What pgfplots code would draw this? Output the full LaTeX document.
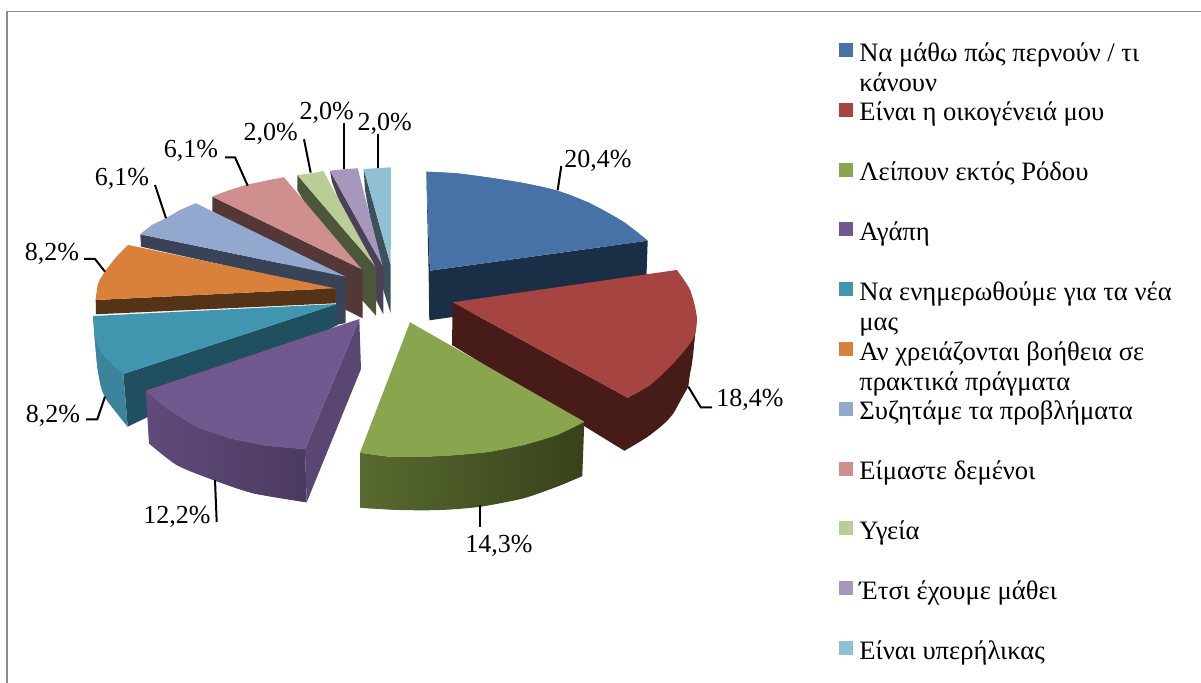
\documentclass[border=0pt]{standalone}
\usepackage{fontspec}
\setmainfont{Liberation Serif}
\usepackage{pgfplots}
\pgfplotsset{compat=1.18}

\definecolor{cBlue}{HTML}{4672A8}
\definecolor{cRed}{HTML}{A64441}
\definecolor{cGreen}{HTML}{89A54E}
\definecolor{cPurple}{HTML}{71588F}
\definecolor{cTeal}{HTML}{4096AF}
\definecolor{cOrange}{HTML}{D9813B}
\definecolor{cLilacBlue}{HTML}{92A8CF}
\definecolor{cPink}{HTML}{CF8F8E}
\definecolor{cLime}{HTML}{B9CD96}
\definecolor{cLilac}{HTML}{A797BD}
\definecolor{cSky}{HTML}{8FC0D4}
\definecolor{cSkyWall}{HTML}{3B525A}
\definecolor{cLilacWall}{HTML}{4A4157}
\definecolor{cLimeWall}{HTML}{4C563A}
\definecolor{cPinkWall}{HTML}{543838}
\definecolor{cLilacBlueWall}{HTML}{3A4257}
\definecolor{cOrangeWall}{HTML}{553316}
\definecolor{cTealWall}{HTML}{205060}
\definecolor{cTealSide}{HTML}{3B859C}
\definecolor{cPurpleWall}{HTML}{5A4672}
\definecolor{cPurpleSideA}{HTML}{5F4B7B}
\definecolor{cPurpleSideB}{HTML}{4B3A5F}
\definecolor{cBlueWall}{HTML}{1A2E46}
\definecolor{cRedWall}{HTML}{471B18}
\definecolor{cGreenSideA}{HTML}{586A2F}
\definecolor{cGreenSideB}{HTML}{37421B}
\definecolor{frameGrey}{HTML}{8C8C8C}

\pgfplotsset{
  face/.style={forget plot,draw=none,fill=#1},
  arc/.style={forget plot,draw=none,fill=#1,smooth},
  shadedface/.style 2 args={forget plot,draw=none,left color=#1,right color=#2},
  leader/.style={forget plot,black,line width=1pt,line join=miter},
}
\newcommand{\entry}[1]{\parbox[t]{172pt}{\setlength{\baselineskip}{15pt}#1}}
\newcommand{\lbl}[2]{\node[font=\fontsize{13}{15}\selectfont,inner sep=0pt] at (axis cs:#1) {#2};}

\begin{document}
\begin{tikzpicture}
\begin{axis}[
  at={(0,0)},anchor=south west,
  scale only axis,width=600.5pt,height=341.5pt,
  xmin=0,xmax=1201,ymin=0,ymax=683,y dir=reverse,
  hide axis,clip=false,no markers,
  legend image code/.code={\fill[#1,draw=none] (0pt,2pt) rectangle (7pt,9pt);},
  legend style={at={(axis cs:839,40.7)},anchor=north west,draw=none,fill=none,
    inner sep=0pt,row sep=0pt,
    font=\fontsize{13.3}{15}\selectfont,
    cells={anchor=base west},
    nodes={inner sep=0pt,outer sep=0pt,text height=10pt,text depth=19.9pt},
    /tikz/every odd column/.append style={column sep=3pt}},
]
\addlegendimage{fill=cBlue}\addlegendentry{\entry{Να μάθω πώς περνούν / τι\\κάνουν}}
\addlegendimage{fill=cRed}\addlegendentry{\entry{Είναι η οικογένειά μου}}
\addlegendimage{fill=cGreen}\addlegendentry{\entry{Λείπουν εκτός Ρόδου}}
\addlegendimage{fill=cPurple}\addlegendentry{\entry{Αγάπη}}
\addlegendimage{fill=cTeal}\addlegendentry{\entry{Να ενημερωθούμε για τα νέα\\μας}}
\addlegendimage{fill=cOrange}\addlegendentry{\entry{Αν χρειάζονται βοήθεια σε\\πρακτικά πράγματα}}
\addlegendimage{fill=cLilacBlue}\addlegendentry{\entry{Συζητάμε τα προβλήματα}}
\addlegendimage{fill=cPink}\addlegendentry{\entry{Είμαστε δεμένοι}}
\addlegendimage{fill=cLime}\addlegendentry{\entry{Υγεία}}
\addlegendimage{fill=cLilac}\addlegendentry{\entry{Έτσι έχουμε μάθει}}
\addlegendimage{fill=cSky}\addlegendentry{\entry{Είναι υπερήλικας}}

% frame
\addplot[forget plot,frameGrey,line width=0.9pt] coordinates {(6.7,683) (6.7,11.5)};
\addplot[forget plot,frameGrey,line width=0.5pt] coordinates {(6,12) (1201,12)};

% slices, back to front: wall first, then top, then smooth caps on the rims
% 2,0% sky
\addplot[face=cSkyWall] coordinates {(363.7,169) (390.7,265) (390.7,313.3) (383.3,290) (365,190)} -- cycle;
\addplot[face=cSky] coordinates {(363.7,169) (391,167.3) (390.7,265)} -- cycle;
% 2,0% lilac
\addplot[face=cLilacWall] coordinates {(330,170.7) (382.7,266) (383.5,266) (383.3,314.3) (376,300) (332,182)} -- cycle;
\addplot[face=cLilac] coordinates {(330,170.7) (343.3,169.3) (357.7,168.3) (382.7,266)} -- cycle;
% 2,0% lime
\addplot[face=cLimeWall] coordinates {(297.3,175) (375,266) (376,266) (376,315.7) (362,300) (297.3,190)} -- cycle;
\addplot[face=cLime] coordinates {(297.3,175) (311.7,173.3) (323.3,171) (375,266)} -- cycle;
% 6,1% pink
\addplot[face=cPinkWall] coordinates {(212.3,196.7) (361.7,269.3) (362.7,269) (362.7,318.3) (346,310) (212.3,211)} -- cycle;
\addplot[face=cPink] coordinates {(212.3,196.7) (230,190) (246.7,185) (266.7,180.7) (284,177.3) (361.7,269.3)} -- cycle;
\addplot[arc=cPink] coordinates {(212.3,196.7) (230,190) (246.7,185) (266.7,180.7) (284,177.3)} -- cycle;
% 6,1% lilac blue
\addplot[face=cLilacBlueWall] coordinates {(140.3,234.3) (345.7,276.7) (345.7,323) (336,325) (336,290) (141,246.7)} -- cycle;
\addplot[face=cLilacBlue] coordinates {(140.3,234.3) (151.7,225) (166,218.3) (180,210) (196,203.3) (345.7,276.7)} -- cycle;
\addplot[arc=cLilacBlue] coordinates {(140.3,234.3) (151.7,226) (166,218.3) (180,210.5) (196,203.3)} -- cycle;
% 8,2% orange
\addplot[face=cOrangeWall] coordinates {(95.7,300) (335,288.3) (335.7,303.3) (96,314.3)} -- cycle;
\addplot[face=cOrange] coordinates {(95.7,300) (98.3,283.3) (105,271.7) (116.7,256.7) (128.3,245) (335,288.3)} -- cycle;
\addplot[arc=cOrange] coordinates {(95.7,300) (98.3,283.3) (105,271.7) (116.7,256.7) (128.3,245)} -- cycle;
% 8,2% teal
\addplot[face=cTealWall] coordinates {(336.7,304) (338,325) (127.7,426.7) (123.3,374)} -- cycle;
\addplot[face=cTealSide] coordinates {(93.3,316) (94.3,333) (97.3,366.7) (101,386.7) (106.7,400) (127.7,426.7) (123.3,374)} -- cycle;
\addplot[arc=cTealSide] coordinates {(93.3,316) (94.3,333) (97.3,366.7) (101,386.7) (106.7,400) (127.7,426.7)} -- cycle;
\addplot[face=cTeal] coordinates {(93.3,316) (336.7,304) (123.3,374) (103.3,355) (95,336.7)} -- cycle;
\addplot[arc=cTeal] coordinates {(93.3,316) (95,336.7) (103.3,355) (123.3,374)} -- cycle;
% 12,2% purple
\addplot[face=cPurpleWall] coordinates {(359.3,319) (361,369) (306.7,502.3) (305,449)} -- cycle;
\addplot[shadedface={cPurpleSideA}{cPurpleSideB}] coordinates {(145.7,390.7) (149,443.3) (176.7,465) (213.3,480) (253.3,493.3) (306.7,502.3) (305,449) (266.7,445.7) (230,438.3) (196.7,426.7) (166.7,408.3)} -- cycle;
\addplot[shadedface={cPurpleSideA}{cPurpleSideB},smooth] coordinates {(149,443.3) (176.7,465) (213.3,480) (253.3,493.3) (306.7,502.3)} -- cycle;
\addplot[face=cPurple] coordinates {(359.3,319) (145.7,390.7) (166.7,408.3) (196.7,426.7) (230,438.3) (266.7,445.7) (305,449)} -- cycle;
\addplot[arc=cPurple] coordinates {(145.7,390.7) (166.7,408.3) (196.7,426.7) (230,438.3) (266.7,445.7) (305,449)} -- cycle;
% 20,4% blue
\addplot[face=cBlueWall] coordinates {(426.3,171.7) (430,270.7) (647.7,240.7) (646,290) (429.3,320.3) (428.6,271)} -- cycle;
\addplot[face=cBlue] coordinates {(426.3,171.7) (456.7,173.3) (490,177.7) (523.3,183) (557.7,190.7) (590,203.3) (623.3,221.7) (647.7,240.7) (430,270.7)} -- cycle;
\addplot[arc=cBlue] coordinates {(426.3,171.7) (456.7,173.3) (490,177.7) (523.3,183) (557.7,190.7) (590,203.3) (623.3,221.7) (647.7,240.7)} -- cycle;
% 18,4% red
\addplot[face=cRedWall] coordinates {(452.7,302.3) (627.7,397.7) (650,385) (673.3,363.3) (693.3,338.3) (696.7,316.7) (695,335) (690,373.3) (688.3,386.7) (673.3,413.3) (650,435) (624.3,450.7) (452,345)} -- cycle;
\addplot[arc=cRedWall] coordinates {(696.7,316.7) (695,335) (690,373.3) (673.3,413.3) (650,435) (624.3,450.7)} -- cycle;
\addplot[face=cRed] coordinates {(452.7,302.3) (676.7,270) (690,290) (696.7,316.7) (693.3,338.3) (673.3,363.3) (650,385) (627.7,397.7)} -- cycle;
\addplot[arc=cRed] coordinates {(676.7,270) (690,290) (696.7,316.7) (693.3,338.3) (673.3,363.3) (650,385) (627.7,397.7)} -- cycle;
% 14,3% green
\addplot[shadedface={cGreenSideA}{cGreenSideB}] coordinates {(360,452.7) (360,507.7) (400,510) (440,510) (480,506.7) (523.3,498.3) (556.7,486.7) (582.3,476) (584.3,421.7) (556.7,435) (523.3,445) (490,451.7) (456.7,455) (423.3,456.7) (390,456.7)} -- cycle;
\addplot[shadedface={cGreenSideA}{cGreenSideB},smooth] coordinates {(360,507.7) (400,510) (440,510) (480,506.7) (523.3,498.3) (556.7,486.7) (582.3,476)} -- cycle;
\addplot[face=cGreen] coordinates {(410,322.3) (584.3,421.7) (556.7,435) (523.3,445) (490,451.7) (456.7,455) (423.3,456.7) (390,456.7) (360,452.7)} -- cycle;
\addplot[arc=cGreen] coordinates {(360,452.7) (390,456.7) (423.3,456.7) (456.7,455) (490,451.7) (523.3,445) (556.7,435) (584.3,421.7)} -- cycle;

% leaders
\addplot[leader] coordinates {(561.3,166) (557.7,190)};
\addplot[leader] coordinates {(688.3,386.7) (700.7,407.3) (712,407.3)};
\addplot[leader] coordinates {(480,505) (480,527)};
\addplot[leader] coordinates {(215,480) (216.7,522)};
\addplot[leader] coordinates {(105,396.7) (97.3,419.3) (86,419.3)};
\addplot[leader] coordinates {(105,271.7) (95,259) (84,259)};
\addplot[leader] coordinates {(166,218.3) (155,185)};
\addplot[leader] coordinates {(247.7,185.7) (235,157.3) (225,157.3)};
\addplot[leader] coordinates {(304,139.3) (310.7,172.7)};
\addplot[leader] coordinates {(344,122.7) (344,169.3)};
\addplot[leader] coordinates {(377.7,134.3) (377.7,167.7)};

% percentage labels
\lbl{598,161}{20,4\%}
\lbl{750,400}{18,4\%}
\lbl{499,546}{14,3\%}
\lbl{177,517}{12,2\%}
\lbl{53,416}{8,2\%}
\lbl{52,254}{8,2\%}
\lbl{122,179}{6,1\%}
\lbl{191,151}{6,1\%}
\lbl{270.7,133.7}{2,0\%}
\lbl{326.7,112.7}{2,0\%}
\lbl{384.7,123.7}{2,0\%}
\end{axis}
\pgfresetboundingbox
\useasboundingbox (0,0) rectangle (600.5pt,341.5pt);
\end{tikzpicture}
\end{document}
